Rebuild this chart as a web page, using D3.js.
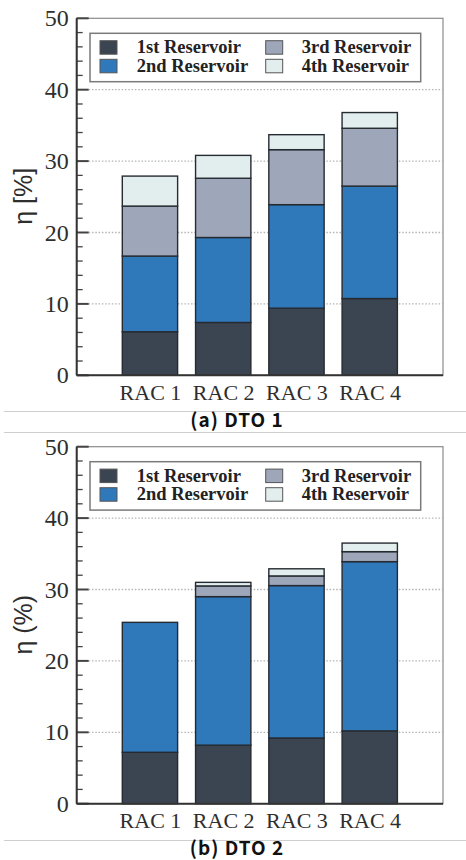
<!DOCTYPE html>
<html><head><meta charset="utf-8">
<script src="https://cdn.jsdelivr.net/npm/d3@7"></script>
<style>html,body{margin:0;padding:0;background:#fff;}svg{display:block;}</style>
</head><body>
<script>
const categories = ["RAC 1","RAC 2","RAC 3","RAC 4"];
const seriesNames = ["1st Reservoir","2nd Reservoir","3rd Reservoir","4th Reservoir"];
const seriesColors = ["#3b4451","#2f78ba","#9ea6b9","#e2eeee"];
// DTO 1 stacked segments
const dto1_first  = [6.1, 7.4, 9.4, 10.75];
const dto1_second = [10.6, 11.9, 14.5, 15.75];
const dto1_third  = [7.0, 8.3, 7.7, 8.1];
const dto1_fourth = [4.2, 3.2, 2.1, 2.2];
// DTO 2 stacked segments
const dto2_first  = [7.2, 8.2, 9.2, 10.2];
const dto2_second = [18.2, 20.8, 21.35, 23.7];
const dto2_third  = [0, 1.5, 1.35, 1.4];
const dto2_fourth = [0, 0.5, 1.0, 1.2];
const yTicks = [0,10,20,30,40,50];
const captions = ["(a) DTO 1","(b) DTO 2"];
const yLabels = ["η [%]","η (%)"];

const W=466,H=860;
const svg=d3.select("body").append("svg").attr("width",W).attr("height",H);

function panel(top, series, yLabel){
  const left=76.7,right=443,bottom=top+357;
  const g=svg.append("g");
  const x=d3.scaleLinear().domain([0,5]).range([left,right]);
  const y=d3.scaleLinear().domain([0,50]).range([bottom,top]);
  g.append("rect").attr("x",left).attr("y",top).attr("width",right-left).attr("height",bottom-top)
    .attr("fill","none").attr("stroke","#8a8a8a").attr("stroke-width",1.2);
  g.selectAll(".grid").data(yTicks.filter(d=>d>0&&d<50)).join("line")
    .attr("x1",left+12).attr("x2",right).attr("y1",d=>y(d)).attr("y2",d=>y(d))
    .attr("stroke","#b5b5b5").attr("stroke-width",1.3).attr("stroke-dasharray","1.5,1.8");
  const rows=categories.map((c,i)=>{const o={cat:c,idx:i+1};series.forEach((s,k)=>o[seriesNames[k]]=s[i]);return o;});
  const stack=d3.stack().keys(seriesNames)(rows);
  const bw=0.755;
  stack.forEach((layer,k)=>{
    g.selectAll(".s"+k).data(layer.filter(d=>d[1]-d[0]>0)).join("rect")
      .attr("x",d=>x(d.data.idx-bw/2)).attr("width",x(bw)-x(0))
      .attr("y",d=>y(d[1])).attr("height",d=>y(d[0])-y(d[1]))
      .attr("fill",seriesColors[k]).attr("stroke","#262b31").attr("stroke-width",1.4);
  });
  const ya=d3.axisLeft(y).tickValues(yTicks).tickSize(0).tickPadding(8);
  const ay=g.append("g").attr("transform",`translate(${left},0)`).call(ya);
  ay.select(".domain").remove();
  ay.selectAll("text").attr("font-family","'Liberation Serif',serif").attr("font-size",24).attr("fill","#2e2e2e");
  g.selectAll(".mt").data(d3.range(0,51,2)).join("line")
    .attr("x1",left).attr("x2",d=>d%10===0?left+12:left+6).attr("y1",d=>y(d)).attr("y2",d=>y(d))
    .attr("stroke","#444").attr("stroke-width",d=>d%10===0?2:1.3);
  g.append("line").attr("x1",left).attr("x2",left).attr("y1",top).attr("y2",bottom).attr("stroke","#333").attr("stroke-width",2);
  g.append("line").attr("x1",left).attr("x2",right).attr("y1",bottom).attr("y2",bottom).attr("stroke","#333").attr("stroke-width",2);
  const xa=d3.axisBottom(x).tickValues([1,2,3,4]).tickFormat(d=>categories[d-1]).tickSize(0).tickPadding(9);
  const ax=g.append("g").attr("transform",`translate(0,${bottom})`).call(xa);
  ax.select(".domain").remove();
  ax.selectAll("text").attr("font-family","'Liberation Serif',serif").attr("font-size",22).attr("fill","#2e2e2e");
  g.append("text").attr("transform",`translate(32,${top+178}) rotate(-90)`).attr("text-anchor","middle")
    .attr("font-family","'Liberation Sans',sans-serif").attr("font-size",25).attr("fill","#2e2e2e").text(yLabel);
  const lg=g.append("g");
  lg.append("rect").attr("x",90).attr("y",top+15).attr("width",330.7).attr("height",48.4)
    .attr("fill","#fff").attr("stroke","#7a7a7a").attr("stroke-width",1.5);
  const pos=[[100,136.7,0],[100,136.7,1],[265.7,301.7,0],[265.7,301.7,1]];
  seriesNames.forEach((n,k)=>{
    const [sx,tx,r]=pos[k];
    const ry=top+22.4+r*18.6;
    lg.append("rect").attr("x",sx).attr("y",ry).attr("width",17).attr("height",13.5)
      .attr("fill",seriesColors[k]).attr("stroke","#555").attr("stroke-width",1);
    lg.append("text").attr("x",tx).attr("y",ry+12.5).attr("font-family","'Liberation Serif',serif")
      .attr("font-weight","bold").attr("font-size",18.5).attr("fill","#222").text(n);
  });
}
panel(18.3,[dto1_first,dto1_second,dto1_third,dto1_fourth],yLabels[0]);
panel(446.7,[dto2_first,dto2_second,dto2_third,dto2_fourth],yLabels[1]);

[411.5,432.5,840.5].forEach(yy=>svg.append("line").attr("x1",4).attr("x2",466).attr("y1",yy).attr("y2",yy)
  .attr("stroke","#cfcfcf").attr("stroke-width",1.2));
svg.append("text").attr("x",237).attr("y",427).attr("text-anchor","middle")
  .attr("font-family","'Noto Sans CJK KR','Noto Sans',sans-serif").attr("font-weight","bold").attr("font-size",19)
  .attr("letter-spacing",1).attr("fill","#111").text(captions[0]);
svg.append("text").attr("x",237).attr("y",855).attr("text-anchor","middle")
  .attr("font-family","'Noto Sans CJK KR','Noto Sans',sans-serif").attr("font-weight","bold").attr("font-size",19)
  .attr("letter-spacing",1).attr("fill","#111").text(captions[1]);
</script>
</body></html>
